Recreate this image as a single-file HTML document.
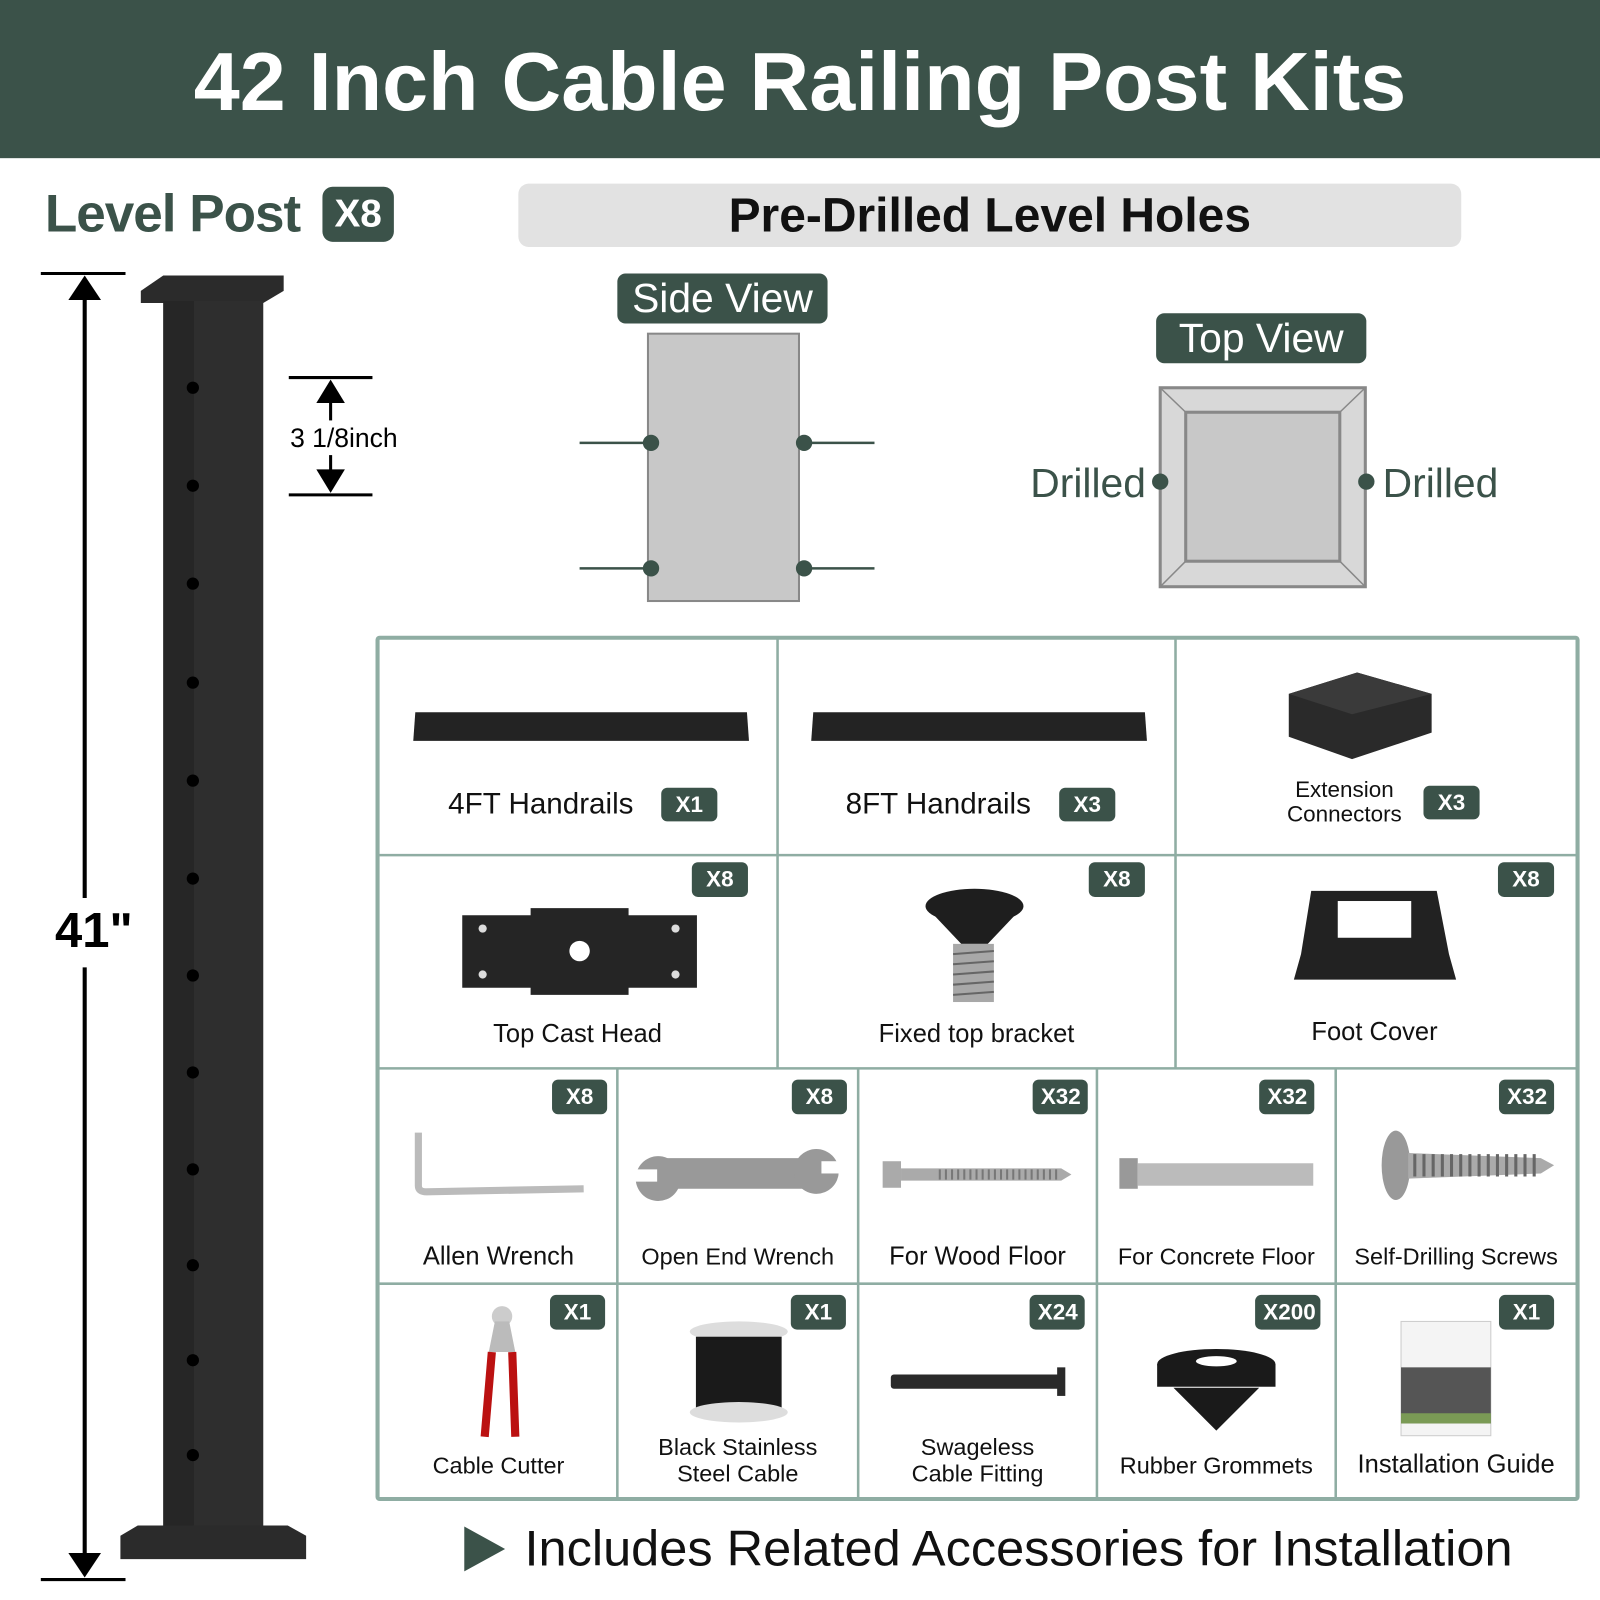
<!DOCTYPE html>
<html><head><meta charset="utf-8"><style>
*{margin:0;padding:0;box-sizing:border-box}
body{width:1600px;height:1600px;overflow:hidden;background:#fff;font-family:"Liberation Sans",sans-serif}
#w{position:absolute;left:0;top:0;width:1568px;height:1568px;transform:scale(1.020408);transform-origin:0 0}
.a{position:absolute}
.badge{position:absolute;background:#3b5249;color:#fff;font-weight:bold;border-radius:6px;text-align:center}
.sb{font-size:22px;height:34px;line-height:34px;padding:0 8px}
.lbl{position:absolute;font-size:25px;color:#111;text-align:center;line-height:26px}
</style></head><body><div id="w">
<div class="a" style="left:0;top:0;width:1568px;height:155px;background:#3b5249;color:#fff;font-weight:bold;font-size:81px;text-align:center;line-height:162px">42 Inch Cable Railing Post Kits</div>

<div class="a" style="left:44px;top:180px;font-size:52px;font-weight:bold;color:#3b5249;letter-spacing:-1px">Level Post</div>
<div class="badge" style="left:316px;top:183px;width:70px;height:54px;line-height:54px;font-size:38px;border-radius:10px">X8</div>

<div class="a" style="left:508px;top:180px;width:924px;height:62px;background:#e2e2e2;border-radius:10px;text-align:center;font-weight:bold;font-size:47px;line-height:62px;color:#111">Pre-Drilled Level Holes</div>

<svg class="a" style="left:0;top:0" width="1568" height="1568">
 <line x1="40" y1="268" x2="123" y2="268" stroke="#000" stroke-width="3"/>
 <line x1="40" y1="1548" x2="123" y2="1548" stroke="#000" stroke-width="3"/>
 <line x1="83" y1="285" x2="83" y2="880" stroke="#000" stroke-width="4"/>
 <line x1="83" y1="948" x2="83" y2="1530" stroke="#000" stroke-width="4"/>
 <polygon points="83,270 67,294 99,294" fill="#000"/>
 <polygon points="83,1546 67,1522 99,1522" fill="#000"/>
 <text x="92" y="928" font-size="48" font-weight="bold" text-anchor="middle" font-family="Liberation Sans">41"</text>
 <polygon points="138,285 160,270 278,270 278,285 258,297 160,297 138,297" fill="#2b2b2b"/>
 <rect x="160" y="295" width="98" height="1200" fill="#2e2e2e"/>
 <rect x="160" y="295" width="30" height="1200" fill="#262626"/>
 <polygon points="135,1495 282,1495 300,1505 300,1528 118,1528 118,1505" fill="#2b2b2b"/>
 <g fill="#000">
 <circle cx="189" cy="380" r="6"/><circle cx="189" cy="476" r="6"/><circle cx="189" cy="572" r="6"/><circle cx="189" cy="669" r="6"/><circle cx="189" cy="765" r="6"/><circle cx="189" cy="861" r="6"/><circle cx="189" cy="956" r="6"/><circle cx="189" cy="1051" r="6"/><circle cx="189" cy="1146" r="6"/><circle cx="189" cy="1240" r="6"/><circle cx="189" cy="1333" r="6"/><circle cx="189" cy="1426" r="6"/>
 </g>
 <line x1="283" y1="370" x2="365" y2="370" stroke="#000" stroke-width="3"/>
 <line x1="283" y1="485" x2="365" y2="485" stroke="#000" stroke-width="3"/>
 <line x1="324" y1="385" x2="324" y2="412" stroke="#000" stroke-width="3"/>
 <line x1="324" y1="446" x2="324" y2="470" stroke="#000" stroke-width="3"/>
 <polygon points="324,372 310,395 338,395" fill="#000"/>
 <polygon points="324,483 310,460 338,460" fill="#000"/>
 <text x="337" y="438" font-size="26" text-anchor="middle" font-family="Liberation Sans">3 1/8inch</text>
 <rect x="635" y="327" width="148" height="262" fill="#c8c8c8" stroke="#888" stroke-width="2"/>
 <g stroke="#3b5249" stroke-width="2.5"><line x1="568" y1="434" x2="638" y2="434"/><line x1="788" y1="434" x2="857" y2="434"/><line x1="568" y1="557" x2="638" y2="557"/><line x1="788" y1="557" x2="857" y2="557"/></g>
 <g fill="#3b5249"><circle cx="638" cy="434" r="8"/><circle cx="788" cy="434" r="8"/><circle cx="638" cy="557" r="8"/><circle cx="788" cy="557" r="8"/></g>
 <rect x="1137" y="380" width="201" height="195" fill="#d8d8d8" stroke="#888" stroke-width="3"/>
 <rect x="1162" y="404" width="151" height="146" fill="#c8c8c8" stroke="#888" stroke-width="3"/>
 <g stroke="#888" stroke-width="1.5"><line x1="1137" y1="380" x2="1162" y2="404"/><line x1="1338" y1="380" x2="1313" y2="404"/><line x1="1137" y1="575" x2="1162" y2="550"/><line x1="1338" y1="575" x2="1313" y2="550"/></g>
 <g fill="#3b5249"><circle cx="1137" cy="472" r="8"/><circle cx="1339" cy="472" r="8"/></g>
 <text x="1123" y="487" font-size="40" fill="#3b5249" text-anchor="end" font-family="Liberation Sans">Drilled</text>
 <text x="1355" y="487" font-size="40" fill="#3b5249" font-family="Liberation Sans">Drilled</text>
 <polygon points="455,1496 495,1518 455,1540" fill="#3b5249"/>
 <text x="514" y="1534" font-size="49.5" font-family="Liberation Sans" fill="#111">Includes Related Accessories for Installation</text>
</svg>
<div class="badge" style="left:605px;top:268px;width:206px;height:49px;line-height:50px;font-size:40px;font-weight:normal;border-radius:8px">Side View</div>
<div class="badge" style="left:1133px;top:307px;width:206px;height:49px;line-height:50px;font-size:40px;font-weight:normal;border-radius:8px">Top View</div>

<div class="a" style="left:368px;top:623px;width:1180px;height:848px;border:4px solid #8fada3;border-radius:4px"></div>
<svg class="a" style="left:0;top:0" width="1568" height="1568">
 <g stroke="#8fada3" stroke-width="2.5">
 <line x1="370" y1="838" x2="1545" y2="838"/><line x1="370" y1="1047" x2="1545" y2="1047"/><line x1="370" y1="1258" x2="1545" y2="1258"/>
 <line x1="762" y1="625" x2="762" y2="1047"/><line x1="1152" y1="625" x2="1152" y2="1047"/>
 <line x1="605" y1="1047" x2="605" y2="1468"/><line x1="841" y1="1047" x2="841" y2="1468"/><line x1="1075" y1="1047" x2="1075" y2="1468"/><line x1="1309" y1="1047" x2="1309" y2="1468"/>
 </g>
 <polygon points="407,698 732,698 734,726 405,726" fill="#232323"/>
 <polygon points="797,698 1122,698 1124,726 795,726" fill="#232323"/>
 <polygon points="1263,680 1330,659 1403,680 1403,718 1325,744 1263,722" fill="#2a2a2a"/>
 <polygon points="1263,680 1330,659 1403,680 1325,700" fill="#3a3a3a"/>
 <polygon points="453,897 520,897 520,890 616,890 616,897 683,897 683,968 616,968 616,975 520,975 520,968 453,968" fill="#252525"/>
 <circle cx="568" cy="932" r="10" fill="#fff"/>
 <g fill="#ddd"><circle cx="473" cy="910" r="4"/><circle cx="473" cy="955" r="4"/><circle cx="662" cy="910" r="4"/><circle cx="662" cy="955" r="4"/></g>
 <ellipse cx="955" cy="888" rx="48" ry="17" fill="#1e1e1e"/>
 <polygon points="907,888 1003,888 968,925 942,925" fill="#1e1e1e"/>
 <rect x="934" y="925" width="40" height="57" fill="#a8a8a8"/>
 <g stroke="#666" stroke-width="2"><line x1="934" y1="935" x2="974" y2="932"/><line x1="934" y1="945" x2="974" y2="942"/><line x1="934" y1="955" x2="974" y2="952"/><line x1="934" y1="965" x2="974" y2="962"/><line x1="934" y1="975" x2="974" y2="972"/></g>
 <polygon points="1285,873 1408,873 1420,935 1427,960 1268,960 1275,935" fill="#222"/>
 <rect x="1311" y="883" width="72" height="36" fill="#fff"/>
 <path d="M410,1110 L410,1162 Q410,1168 418,1168 L572,1165" stroke="#bbb" stroke-width="7" fill="none"/>
 <path d="M640,1135 L805,1135 L805,1165 L640,1165 Z" fill="#999"/>
 <circle cx="645" cy="1155" r="22" fill="#999"/><circle cx="800" cy="1148" r="22" fill="#999"/>
 <rect x="622" y="1146" width="22" height="12" fill="#fff"/><rect x="805" y="1138" width="22" height="12" fill="#fff"/>
 <rect x="865" y="1138" width="18" height="26" fill="#aaa"/>
 <polygon points="883,1145 1040,1145 1050,1151 1040,1157 883,1157" fill="#aaa"/>
 <line x1="920" y1="1151" x2="1040" y2="1151" stroke="#777" stroke-width="10" stroke-dasharray="2,4"/>
 <rect x="1097" y="1135" width="18" height="30" fill="#999"/>
 <rect x="1115" y="1140" width="172" height="22" fill="#bbb"/>
 <ellipse cx="1368" cy="1142" rx="14" ry="34" fill="#999"/>
 <polygon points="1380,1130 1510,1135 1523,1142 1510,1150 1380,1155" fill="#aaa"/>
 <line x1="1385" y1="1142" x2="1510" y2="1142" stroke="#666" stroke-width="22" stroke-dasharray="3,6"/>
 <circle cx="492" cy="1290" r="10" fill="#ccc"/>
 <polygon points="485,1295 499,1295 505,1325 479,1325" fill="#bbb"/>
 <path d="M482,1325 L475,1408 M502,1325 L505,1408" stroke="#b11" stroke-width="8" fill="none"/>
 <ellipse cx="724" cy="1305" rx="48" ry="10" fill="#ddd"/>
 <rect x="682" y="1310" width="84" height="72" fill="#1a1a1a"/>
 <ellipse cx="724" cy="1384" rx="48" ry="10" fill="#ddd"/>
 <rect x="873" y="1347" width="170" height="14" rx="3" fill="#2a2a2a"/>
 <rect x="1036" y="1340" width="8" height="28" fill="#2a2a2a"/>
 <ellipse cx="1192" cy="1337" rx="58" ry="15" fill="#1a1a1a"/>
 <rect x="1134" y="1337" width="116" height="22" fill="#1a1a1a"/>
 <ellipse cx="1192" cy="1334" rx="20" ry="5" fill="#fff"/>
 <polygon points="1150,1360 1234,1360 1192,1402" fill="#1a1a1a"/>
 <rect x="1373" y="1295" width="88" height="112" fill="#f4f4f4" stroke="#ccc"/>
 <rect x="1373" y="1340" width="88" height="55" fill="#555"/>
 <rect x="1373" y="1385" width="88" height="10" fill="#7a9a55"/>
</svg>
<div class="lbl" style="left:365px;top:775px;width:330px;font-size:29px">4FT Handrails</div>
<div class="badge sb" style="left:648px;top:772px;width:55px;height:33px;line-height:33px">X1</div>
<div class="lbl" style="left:757px;top:775px;width:325px;font-size:29px">8FT Handrails</div>
<div class="badge sb" style="left:1038px;top:772px;width:55px;height:33px;line-height:33px">X3</div>
<div class="lbl" style="left:1250px;top:762px;width:135px;font-size:22px;line-height:24px">Extension<br>Connectors</div>
<div class="badge sb" style="left:1395px;top:770px;width:55px;height:33px;line-height:33px">X3</div>

<div class="badge sb" style="left:678px;top:845px;width:55px">X8</div>
<div class="badge sb" style="left:1067px;top:845px;width:55px">X8</div>
<div class="badge sb" style="left:1468px;top:845px;width:55px">X8</div>
<div class="lbl" style="left:370px;top:1000px;width:392px">Top Cast Head</div>
<div class="lbl" style="left:762px;top:1000px;width:390px">Fixed top bracket</div>
<div class="lbl" style="left:1152px;top:998px;width:390px">Foot Cover</div>

<div class="badge sb" style="left:541px;top:1058px;width:54px">X8</div>
<div class="badge sb" style="left:776px;top:1058px;width:54px">X8</div>
<div class="badge sb" style="left:1012px;top:1058px;width:54px">X32</div>
<div class="badge sb" style="left:1234px;top:1058px;width:54px">X32</div>
<div class="badge sb" style="left:1469px;top:1058px;width:54px">X32</div>
<div class="lbl" style="left:370px;top:1218px;width:237px">Allen Wrench</div>
<div class="lbl" style="left:605px;top:1218px;width:236px;font-size:23px">Open End Wrench</div>
<div class="lbl" style="left:841px;top:1218px;width:234px">For Wood Floor</div>
<div class="lbl" style="left:1075px;top:1218px;width:234px;font-size:23px">For Concrete Floor</div>
<div class="lbl" style="left:1309px;top:1218px;width:236px;font-size:23px">Self-Drilling Screws</div>

<div class="badge sb" style="left:539px;top:1269px;width:54px">X1</div>
<div class="badge sb" style="left:775px;top:1269px;width:54px">X1</div>
<div class="badge sb" style="left:1009px;top:1269px;width:54px">X24</div>
<div class="badge sb" style="left:1230px;top:1269px;width:64px">X200</div>
<div class="badge sb" style="left:1469px;top:1269px;width:54px">X1</div>
<div class="lbl" style="left:370px;top:1423px;width:237px;font-size:23px">Cable Cutter</div>
<div class="lbl" style="left:605px;top:1405px;width:236px;font-size:23px">Black Stainless<br>Steel Cable</div>
<div class="lbl" style="left:841px;top:1405px;width:234px;font-size:23px">Swageless<br>Cable Fitting</div>
<div class="lbl" style="left:1075px;top:1423px;width:234px;font-size:23px">Rubber Grommets</div>
<div class="lbl" style="left:1309px;top:1422px;width:236px">Installation Guide</div>
</div></body></html>
